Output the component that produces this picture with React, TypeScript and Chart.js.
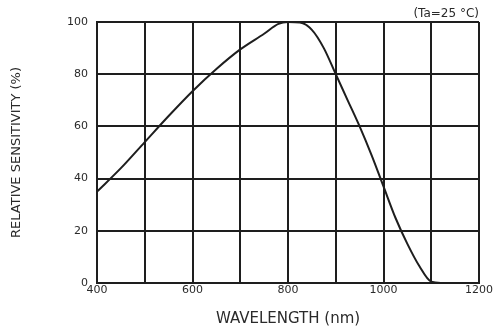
import { useEffect, useRef } from "react";
import { Chart, registerables } from "chart.js";

Chart.register(...registerables);

// Data
const wavelengths = [400, 450, 500, 550, 600, 650, 700, 750, 780, 800, 825, 850, 875, 900, 925, 950, 975, 1000, 1025, 1050, 1075, 1100, 1125];
const sensitivity = [35, 44, 54, 64, 73.5, 82, 89.5, 95.5, 99.3, 100, 99.8, 97, 90, 80, 70, 60, 49, 37, 25, 15, 6.5, 0.5, 0];

const xTickLabels = [400, 600, 800, 1000, 1200];
const xTitle = "WAVELENGTH (nm)";
const yTitle = "RELATIVE SENSITIVITY (%)";
const noteText = "(Ta=25 °C)";

const ink = "#1e1e1e";
const textInk = "#2a2a2a";
const family = "DejaVu Sans";

export default function App() {
  const ref = useRef<HTMLCanvasElement>(null);

  useEffect(() => {
    const chart = new Chart(ref.current!, {
      type: "line",
      data: {
        datasets: [
          {
            data: wavelengths.map((x, i) => ({ x, y: sensitivity[i] })),
            borderColor: ink,
            borderWidth: 2,
            pointRadius: 0,
            cubicInterpolationMode: "monotone",
            fill: false,
          },
        ],
      },
      options: {
        animation: false,
        responsive: false,
        layout: { padding: { left: 0, right: 18, top: 0, bottom: 0 } },
        plugins: {
          legend: { display: false },
          tooltip: { enabled: false },
          title: {
            display: true,
            text: noteText,
            align: "end",
            color: textInk,
            font: { family, size: 12, weight: "normal", lineHeight: 1.2 },
            padding: { top: 7, bottom: 0.6 },
          },
        },
        scales: {
          x: {
            type: "linear",
            min: 400,
            max: 1200,
            afterFit(s: any) {
              s.height = 43;
            },
            ticks: {
              stepSize: 100,
              autoSkip: false,
              maxRotation: 0,
              padding: 1,
              color: textInk,
              font: { family, size: 11 },
              callback: (v: any) => (xTickLabels.includes(Number(v)) ? String(v) : ""),
            },
            grid: { color: ink, lineWidth: 2, drawTicks: false },
            border: { color: ink, width: 2 },
            title: {
              display: true,
              text: xTitle,
              color: textInk,
              font: { family, size: 15, lineHeight: 1 },
              padding: { top: 0, bottom: -1 },
            },
          },
          y: {
            type: "linear",
            min: 0,
            max: 100,
            afterFit(s: any) {
              s.width = 97;
            },
            ticks: {
              stepSize: 20,
              padding: 9,
              color: textInk,
              font: { family, size: 11 },
            },
            grid: { color: ink, lineWidth: 2, drawTicks: false },
            border: { color: ink, width: 2 },
            title: {
              display: true,
              text: yTitle,
              color: textInk,
              font: { family, size: 13, lineHeight: 1.2 },
              padding: { top: 9, bottom: 0 },
            },
          },
        },
      },
    } as any);
    return () => chart.destroy();
  }, []);

  return (
    <div style={{ position: "fixed", left: 0, top: 0, width: 497, height: 326, background: "#fff" }}>
      <canvas ref={ref} width={497} height={326} style={{ display: "block" }} />
    </div>
  );
}
